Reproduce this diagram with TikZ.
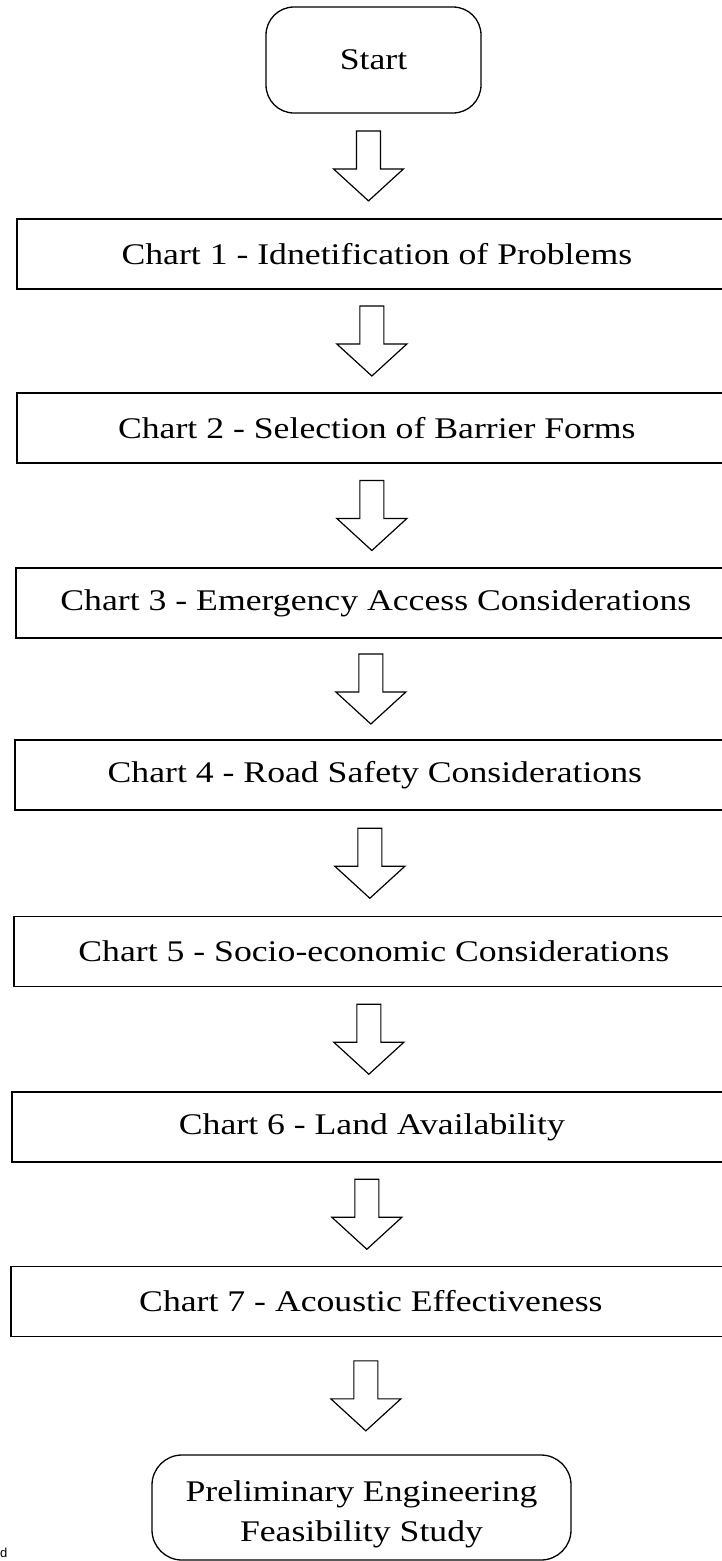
\documentclass[tikz,border=0pt]{standalone}
\usepackage{fontspec}
\setmainfont{Liberation Serif}[FakeStretch=1.19]
\newfontfamily\stray{Liberation Sans}
\usepackage{tikz}
\usetikzlibrary{calc}
\tikzset{
termbox/.style = {draw, line width=1.3pt, rounded corners=28pt, align=center, inner sep=0pt},
chartbox/.style = {draw, line width=1.7pt, anchor=west, minimum width=720pt, minimum height=70pt, inner sep=0pt},
hollow/.style = {draw, line width=1.2pt, line join=miter, fill=white}
}
% block arrow between two nodes, 70pt long, centred in the gap
\newcommand{\blockarrow}[2]{%
  \path[hollow] let \p1=(#1.south), \p2=(#2.north), \n1={(\y1+\y2)/2}, \n2={\x1-5pt} in
    (\n2-12pt,\n1+35pt) -- (\n2+12pt,\n1+35pt) -- (\n2+12pt,\n1-3pt) -- (\n2+35pt,\n1-3pt)
    -- (\n2,\n1-35pt) -- (\n2-35pt,\n1-3pt) -- (\n2-12pt,\n1-3pt) -- cycle;}

\begin{document}
\begin{tikzpicture}[x=1pt, y=1pt, font=\fontsize{30}{40}\selectfont]
  \useasboundingbox (0,0) rectangle (721,-1561);

  \node [termbox, minimum width=215pt, minimum height=106pt] (start) at (373.5,-60) {Start};

  \node [chartbox] (c1) at (16,-254) {Chart 1 - Idnetification of Problems};
  \node [chartbox] (c2) at (16,-428) {Chart 2 - Selection of Barrier Forms};
  \node [chartbox] (c3) at (15,-603) {Chart 3 - Emergency Access Considerations};
  \node [chartbox] (c4) at (14,-775) {Chart 4 - Road Safety Considerations};
  \node [chartbox] (c5) at (13,-951.5) {Chart 5 - Socio-economic Considerations};
  \node [chartbox] (c6) at (11,-1127) {Chart 6 - Land Availability};
  \node [chartbox] (c7) at (10,-1301.5) {Chart 7 - Acoustic Effectiveness};

  \node [termbox, rounded corners=30pt, minimum width=419pt, minimum height=105pt] (feas) at (361.5,-1507.5)
    {\rule{0pt}{34pt}Preliminary Engineering\\Feasibility Study};

  \node [anchor=west, inner sep=0pt, font=\stray\fontsize{13}{13}\selectfont] (mark) at (0,-1553) {d};

  \foreach \a/\b in {start/c1, c1/c2, c2/c3, c3/c4, c4/c5, c5/c6, c6/c7, c7/feas}
    {\blockarrow{\a}{\b}}
\end{tikzpicture}
\end{document}
